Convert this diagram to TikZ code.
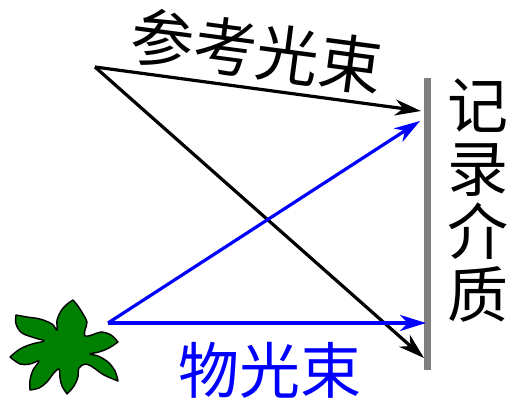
\documentclass[tikz,border=0pt]{standalone}
\usepackage{fontspec}
\newfontfamily\cjk{Noto Sans CJK SC}
\usetikzlibrary{arrows.meta}
\definecolor{leaf}{RGB}{0,128,0}
\definecolor{plate}{RGB}{128,128,128}
\begin{document}
\begin{tikzpicture}[x=1pt,y=1pt,
  ray/.style={line width=3.2pt,-{Stealth[length=26pt,width=16pt,inset=8pt]}},
  lbl/.style={font=\cjk\fontsize{61}{63}\selectfont,inner sep=0pt,align=center},
  edge/.style={smooth,tension=0.6}]
\useasboundingbox (0,0) rectangle (514,408);

% recording medium (plate)
\coordinate (plateTop) at (427,330);
\coordinate (plateBot) at (427,38);
\draw[line width=7pt,plate] (plateTop) -- (plateBot);

% light sources and arrival points
\coordinate (ref) at (95,341);
\coordinate (obj) at (108,85);
\coordinate (refHi) at (421,297);
\coordinate (refLo) at (424,50);
\coordinate (objHi) at (420,287);
\coordinate (objLo) at (426,85);

% reference beam (black) and object beam (blue)
\draw[ray,black] (ref) -- (refHi);
\draw[ray,black] (ref) -- (refLo);
\draw[ray,blue] (obj) -- (objHi);
\draw[ray,blue] (obj) -- (objLo);

% labels
\node[lbl,font=\cjk\fontsize{63}{63}\selectfont,rotate=-7.5] (refLbl) at (257,357) {参考光束};
\node[lbl] (medLbl) at (478,207) {记\\录\\介\\质};
\node[lbl,text=blue] (objLbl) at (270,38) {物光束};

% the object: a swirled seven-petal flower (drawn in top-down coordinates)
\begin{scope}[shift={(0,408)},yscale=-1]
\draw[fill=leaf,line width=1.4pt,line join=round]
  plot[edge] coordinates {(73,300) (78,306) (83,314) (87,322) (85,330) (85,336)
                          (92,335) (101,332) (111,335) (118,342)}
  -- plot[edge] coordinates {(118,342) (109,348) (99,352) (90,354)
                          (98,356) (108,362) (115,371) (118,381)}
  -- plot[edge] coordinates {(118,381) (104,375) (94,368) (86,364)
                          (79,368) (78,377) (74,386) (67,394)}
  -- plot[edge] coordinates {(67,394) (62,386) (60,378) (59,369)
                          (53,374) (47,382) (39,388) (30,390)}
  -- plot[edge] coordinates {(30,390) (30,380) (33,370) (39,361)
                          (30,364) (20,364) (10,357)}
  -- plot[edge] coordinates {(10,357) (20,349) (32,344) (44,341)
                          (35,338) (22,333) (16,324) (16,315)}
  -- plot[edge] coordinates {(16,315) (27,317) (40,319) (52,324) (57,330)
                          (57,320) (61,311) (66,305) (73,300)}
  -- cycle;
\end{scope}
\end{tikzpicture}
\end{document}
